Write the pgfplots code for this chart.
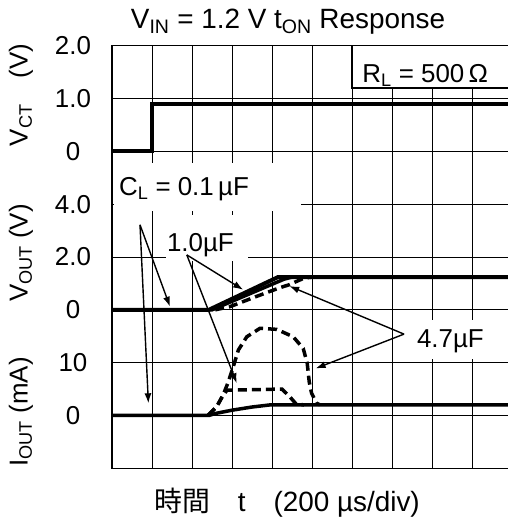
\documentclass[border=0pt]{standalone}
\usepackage{fontspec}
\setmainfont{Liberation Sans}
\newfontfamily\cjk{Noto Sans CJK JP}
\usepackage{pgfplots}
\pgfplotsset{compat=1.18}
\usetikzlibrary{arrows.meta}

\newcommand\lbl{\fontsize{26}{30}\selectfont}
\newcommand\ttl{\fontsize{28}{32}\selectfont}

\begin{document}
\begin{tikzpicture}
\useasboundingbox (-112bp,-54.7bp) rectangle (396bp,468.3bp);
\clip (-112bp,-54.7bp) rectangle (396bp,468.3bp);
\begin{axis}[
  scale only axis, width=400bp, height=422.6bp,
  xmin=0, xmax=10, ymin=0, ymax=8,
  xtick={0,...,10}, ytick={0,...,8},
  xticklabels={},
  yticklabels={,0,10,0,2.0,4.0,0,1.0,2.0},
  yticklabel style={anchor=center, xshift=-39bp, font=\lbl},
  major tick length=0pt,
  grid=major, grid style={black, line width=0.8bp},
  axis line style={line width=1.3bp},
  every axis plot/.append style={mark=none, black},
]
% V_CT
\addplot[line width=4bp] coordinates {(0,6) (1,6) (1,6.896) (10,6.896)};
% V_OUT, 0.1 uF and 1.0 uF
\addplot[line width=4bp] coordinates {(0,3) (2.42,3) (4.15,3.62) (10,3.62)};
\addplot[line width=3.5bp] coordinates {(0,3) (2.5,3) (4.3,3.58) (4.5,3.62) (10,3.62)};
% V_OUT, 4.7 uF
\addplot[line width=3.5bp, dash pattern=on 9bp off 5bp] coordinates {
  (2.58,3.0) (2.95,3.06) (3.6,3.25) (4.2,3.42) (4.41,3.47) (4.8,3.6) (5.0,3.62)};
% I_OUT
\addplot[line width=3.5bp] coordinates {
  (0,1) (2.42,1) (2.6,1.04) (3.0,1.1) (3.5,1.16) (3.95,1.2) (10,1.2)};
\addplot[line width=3.5bp, dash pattern=on 9bp off 5bp] coordinates {
  (2.41,1.01) (2.62,1.17) (2.78,1.39) (2.88,1.48) (3.0,1.48) (4.25,1.5)
  (4.45,1.35) (4.6,1.22) (4.8,1.2)};
\addplot[line width=3.5bp, dash pattern=on 9bp off 5bp] coordinates {
  (2.41,1.01) (2.62,1.17) (2.78,1.39) (2.91,1.64) (3.03,1.92) (3.16,2.24)
  (3.37,2.49) (3.7,2.65) (4.12,2.63) (4.53,2.49) (4.78,2.27) (4.88,1.99)
  (4.93,1.64) (4.99,1.42) (5.12,1.23) (5.2,1.2)};

% label boxes
\fill[white] (0.05,4.87) rectangle (4.72,5.78);
\fill[white] (1.35,3.93) rectangle (3.4,4.80);
\fill[white] (7.15,2.07) rectangle (9.5,2.81);
\filldraw[fill=white, draw=black, line width=1.3bp] (6,7.2) rectangle (10.5,8);

\node[anchor=base, font=\lbl] at (1.8,5.155) {C\textsubscript{L} = 0.1\,µF};
\node[anchor=base, font=\lbl] at (2.21,4.10) {1.0µF};
\node[anchor=base, font=\lbl] at (8.46,2.296) {4.7µF};
\node[anchor=base, font=\lbl] at (7.83,7.30) {R\textsubscript{L} = 500\,Ω};

% arrows
\begin{scope}[line width=1.4bp, -{Latex[length=10bp, width=7bp]}]
\draw (0.7,4.61) -- (1.45,3.06);
\draw (0.7,4.61) -- (0.91,1.23);
\draw (1.87,4.04) -- (3.28,3.38);
\draw (1.87,4.04) -- (3.12,1.61);
\draw (7.3,2.54) -- (4.43,3.45);
\draw (7.3,2.54) -- (5.09,1.89);
\end{scope}
\end{axis}

\node[anchor=base, font=\ttl] at (176bp,440bp)
  {V\textsubscript{IN} = 1.2 V t\textsubscript{ON} Response};
\node[anchor=base, font=\ttl] at (175bp,-43.4bp)
  {{\cjk 時間}\hspace{1em}t\hspace{1em}(200 µs/div)};
\node[rotate=90, font=\lbl] at (-91bp,373.3bp) {V\textsubscript{CT}\hspace{1em}(V)};
\node[rotate=90, font=\lbl] at (-91bp,215.3bp) {V\textsubscript{OUT} (V)};
\node[rotate=90, font=\lbl] at (-91bp,56.3bp) {I\textsubscript{OUT} (mA)};
\end{tikzpicture}
\end{document}
